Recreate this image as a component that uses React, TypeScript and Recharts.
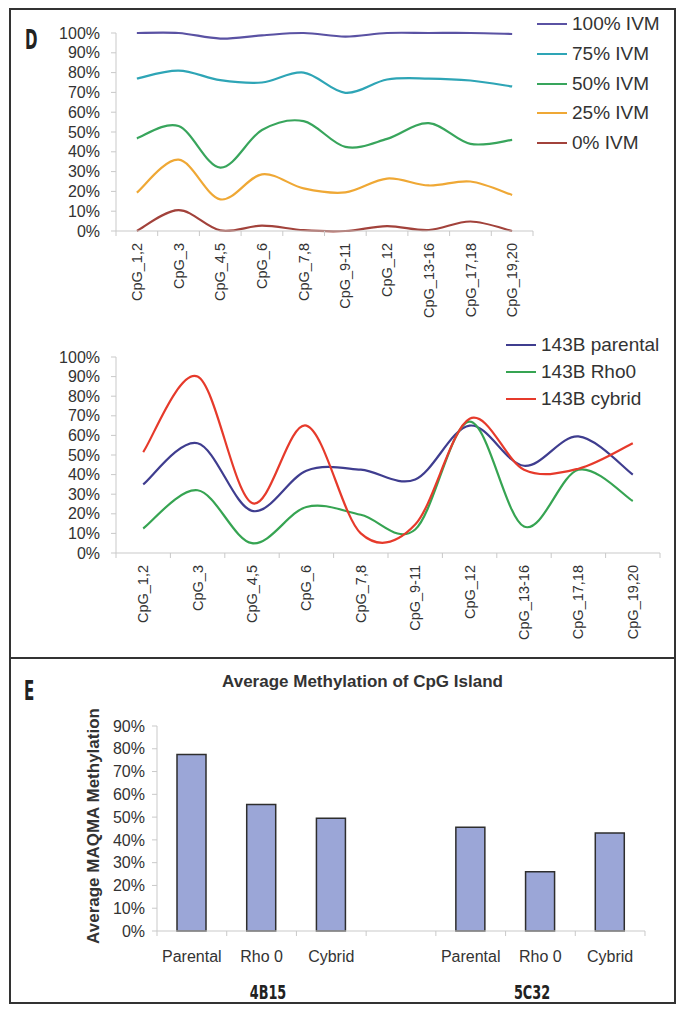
import { LineChart, Line, BarChart, Bar, XAxis, YAxis, Legend } from 'recharts';

const FONT = '"Liberation Sans", Arial, sans-serif';
const NARROW = '"Liberation Sans Narrow", "DejaVu Sans Condensed", sans-serif';
const AXIS = '#c9c9c9';
const INK = '#333';

// panel D, shared CpG sites
const cpgSites = ['CpG_1,2', 'CpG_3', 'CpG_4,5', 'CpG_6', 'CpG_7,8', 'CpG_9-11', 'CpG_12', 'CpG_13-16', 'CpG_17,18', 'CpG_19,20'];

// standards (IVM mixes)
const ivm100 = [100, 100, 97.2, 98.8, 100, 98.2, 100, 100, 100, 99.5];
const ivm75 = [77, 81, 76.2, 75, 80, 69.8, 76.5, 77, 76, 73];
const ivm50 = [46.8, 53, 32, 51, 55.5, 42.5, 46.5, 54.5, 44, 46];
const ivm25 = [19.4, 36, 16, 28.6, 21.5, 19.5, 26.5, 23, 25, 18.2];
const ivm0 = [0, 10.5, 0.3, 2.7, 0.4, 0, 2.5, 0.5, 4.8, 0];

// 143B lines
const parental = [35, 56, 21.5, 42, 42.5, 37.5, 65, 44.5, 59.5, 40];
const rho0 = [12.5, 32, 5, 23.5, 19.5, 12, 67, 13.5, 42.5, 26.5];
const cybrid = [51.5, 90, 25.5, 65, 10, 14.5, 68.5, 42.5, 43, 56];

// panel E
const barLabels = ['Parental', 'Rho 0', 'Cybrid', '', 'Parental', 'Rho 0', 'Cybrid'];
const barValues = [77.5, 55.5, 49.5, null, 45.5, 26, 43];
const groupLabels = ['4B15', '5C32'];

const pctTicks100 = [0, 10, 20, 30, 40, 50, 60, 70, 80, 90, 100];
const pctTicks90 = [0, 10, 20, 30, 40, 50, 60, 70, 80, 90];

const topSeries = [
  { key: 'v100', name: '100% IVM', color: '#5a52a3', values: ivm100 },
  { key: 'v75', name: '75% IVM', color: '#2ea5b6', values: ivm75 },
  { key: 'v50', name: '50% IVM', color: '#38a55c', values: ivm50 },
  { key: 'v25', name: '25% IVM', color: '#efa835', values: ivm25 },
  { key: 'v0', name: '0% IVM', color: '#a2423b', values: ivm0 },
];

const bottomSeries = [
  { key: 'par', name: '143B parental', color: '#3f3d8f', values: parental },
  { key: 'rho', name: '143B Rho0', color: '#36a452', values: rho0 },
  { key: 'cyb', name: '143B cybrid', color: '#e63a2b', values: cybrid },
];

const toRows = (series: typeof topSeries) =>
  cpgSites.map((site, i) => {
    const row: Record<string, any> = { site };
    series.forEach((s) => (row[s.key] = s.values[i]));
    return row;
  });

const topData = toRows(topSeries);
const bottomData = toRows(bottomSeries);
const barData = barLabels.map((label, i) => ({ id: 'c' + i, label, value: barValues[i] }));

// smoothed line the way the spreadsheet draws it (catmull-rom through every point)
const smooth = (context: any) => {
  let pts: number[][] = [];
  return {
    areaStart() {},
    areaEnd() {},
    lineStart() {
      pts = [];
    },
    point(x: number, y: number) {
      pts.push([+x, +y]);
    },
    lineEnd() {
      const n = pts.length;
      if (!n) return;
      context.moveTo(pts[0][0], pts[0][1]);
      for (let i = 0; i < n - 1; i++) {
        const p0 = pts[Math.max(0, i - 1)];
        const p1 = pts[i];
        const p2 = pts[i + 1];
        const p3 = pts[Math.min(n - 1, i + 2)];
        context.bezierCurveTo(
          p1[0] + (p2[0] - p0[0]) / 6,
          p1[1] + (p2[1] - p0[1]) / 6,
          p2[0] - (p3[0] - p1[0]) / 6,
          p2[1] - (p3[1] - p1[1]) / 6,
          p2[0],
          p2[1],
        );
      }
    },
  };
};

function VerticalTick({ x, y, payload, band, count }: any) {
  const i = payload.index;
  return (
    <g>
      <line x1={x - band / 2} x2={x - band / 2} y1={y} y2={y + 5} stroke={AXIS} />
      {i === count - 1 && <line x1={x + band / 2} x2={x + band / 2} y1={y} y2={y + 5} stroke={AXIS} />}
      <text
        x={x}
        y={y + 12}
        transform={`rotate(-90 ${x} ${y + 12})`}
        textAnchor="end"
        dy="0.35em"
        fontSize={14.5}
        fontFamily={FONT}
        fill={INK}
      >
        {payload.value}
      </text>
    </g>
  );
}

function BarTick({ x, y, payload, band, count }: any) {
  const i = payload.index;
  return (
    <g>
      <line x1={x - band / 2} x2={x - band / 2} y1={y} y2={y + 5} stroke={AXIS} />
      {i === count - 1 && <line x1={x + band / 2} x2={x + band / 2} y1={y} y2={y + 5} stroke={AXIS} />}
      <text x={x} y={y + 25} textAnchor="middle" dy="0.35em" fontSize={16} fontFamily={FONT} fill={INK}>
        {barLabels[i]}
      </text>
    </g>
  );
}

function SeriesLegend({ series, rowHeight, lineWidth }: any) {
  return (
    <div style={{ fontFamily: FONT, fontSize: 19, color: INK }}>
      {series.map((s: any) => (
        <div key={s.key} style={{ height: rowHeight, display: 'flex', alignItems: 'center', whiteSpace: 'nowrap' }}>
          <span style={{ width: lineWidth, height: 2, background: s.color, marginRight: 5, display: 'inline-block' }} />
          {s.name}
        </div>
      ))}
    </div>
  );
}

const yTick = { fontSize: 16, fill: INK, fontFamily: FONT };
const pct = (v: number) => v + '%';

export default function App() {
  return (
    <div style={{ position: 'absolute', left: 0, top: 0, width: 685, height: 1012, background: '#fff', fontFamily: FONT }}>
      {/* frame */}
      <div style={{ position: 'absolute', left: 9, top: 8, width: 667, height: 996, border: '2px solid #333', boxSizing: 'border-box' }} />
      <div style={{ position: 'absolute', left: 9, top: 657, width: 667, height: 2, background: '#333' }} />
      <div style={{ position: 'absolute', left: 25, top: 24, fontFamily: NARROW, fontWeight: 700, fontSize: 27, color: '#222', transform: 'scaleX(0.62)', transformOrigin: 'left' }}>D</div>
      <div style={{ position: 'absolute', left: 24, top: 675, fontFamily: NARROW, fontWeight: 700, fontSize: 27, color: '#222', transform: 'scaleX(0.62)', transformOrigin: 'left' }}>E</div>

      <div style={{ position: 'absolute', left: 0, top: 0 }}>
        <LineChart width={685} height={340} data={topData} margin={{ top: 33, right: 152, left: 56, bottom: 9 }}>
          <XAxis
            dataKey="site"
            interval={0}
            height={100}
            padding={{ left: 20.85, right: 20.85 }}
            stroke={AXIS}
            tickLine={false}
            tickSize={0}
            tickMargin={0}
            tick={<VerticalTick band={41.7} count={cpgSites.length} />}
          />
          <YAxis
            domain={[0, 100]}
            ticks={pctTicks100}
            interval={0}
            tickFormatter={pct}
            stroke={AXIS}
            tickSize={5}
            tickMargin={11}
            tick={yTick}
          />
          <Legend
            layout="vertical"
            align="center"
            verticalAlign="middle"
            wrapperStyle={{ left: 537, top: 9.5, width: 140 }}
            content={() => <SeriesLegend series={topSeries} rowHeight={29.7} lineWidth={30} />}
          />
          {topSeries.map((s) => (
            <Line key={s.key} dataKey={s.key} name={s.name} type={smooth as any} stroke={s.color} strokeWidth={2.2} dot={false} isAnimationActive={false} />
          ))}
        </LineChart>
      </div>

      <div style={{ position: 'absolute', left: 0, top: 330 }}>
        <LineChart width={685} height={330} data={bottomData} margin={{ top: 27, right: 25, left: 56, bottom: 7 }}>
          <XAxis
            dataKey="site"
            interval={0}
            height={100}
            padding={{ left: 27.2, right: 27.2 }}
            stroke={AXIS}
            tickLine={false}
            tickSize={0}
            tickMargin={0}
            tick={<VerticalTick band={54.4} count={cpgSites.length} />}
          />
          <YAxis
            domain={[0, 100]}
            ticks={pctTicks100}
            interval={0}
            tickFormatter={pct}
            stroke={AXIS}
            tickSize={5}
            tickMargin={11}
            tick={yTick}
          />
          <Legend
            layout="vertical"
            align="center"
            verticalAlign="middle"
            wrapperStyle={{ left: 506, top: 1.5, width: 170 }}
            content={() => <SeriesLegend series={bottomSeries} rowHeight={27} lineWidth={30} />}
          />
          {bottomSeries.map((s) => (
            <Line key={s.key} dataKey={s.key} name={s.name} type={smooth as any} stroke={s.color} strokeWidth={2.2} dot={false} isAnimationActive={false} />
          ))}
        </LineChart>
      </div>

      <div style={{ position: 'absolute', left: 0, top: 672, width: 725, textAlign: 'center', fontWeight: 700, fontSize: 17, color: INK }}>
        Average Methylation of CpG Island
      </div>
      <div
        style={{
          position: 'absolute',
          left: 94,
          top: 826,
          transform: 'translate(-50%, -50%) rotate(-90deg)',
          whiteSpace: 'nowrap',
          fontWeight: 700,
          fontSize: 17,
          color: INK,
        }}
      >
        Average MAQMA Methylation
      </div>

      <div style={{ position: 'absolute', left: 0, top: 700 }}>
        <BarChart width={685} height={300} data={barData} margin={{ top: 26, right: 40, left: 82, bottom: 29 }}>
          <XAxis
            dataKey="id"
            interval={0}
            height={40}
            stroke={AXIS}
            tickLine={false}
            tickSize={0}
            tickMargin={0}
            tick={<BarTick band={69.7} count={barLabels.length} />}
          />
          <YAxis
            width={75}
            domain={[0, 90]}
            ticks={pctTicks90}
            interval={0}
            tickFormatter={pct}
            stroke={AXIS}
            tickSize={5}
            tickMargin={7}
            tick={yTick}
          />
          <Bar dataKey="value" barSize={29} fill="#9ba6d7" stroke="#2e2e2e" strokeWidth={1.5} isAnimationActive={false} />
        </BarChart>
      </div>

      {groupLabels.map((g, i) => (
        <div
          key={g}
          style={{
            position: 'absolute',
            left: i === 0 ? 268 : 532,
            top: 992,
            transform: 'translate(-50%, -50%) scaleX(0.75)',
            fontFamily: NARROW,
            fontWeight: 700,
            fontSize: 19,
            color: '#222',
          }}
        >
          {g}
        </div>
      ))}
    </div>
  );
}
